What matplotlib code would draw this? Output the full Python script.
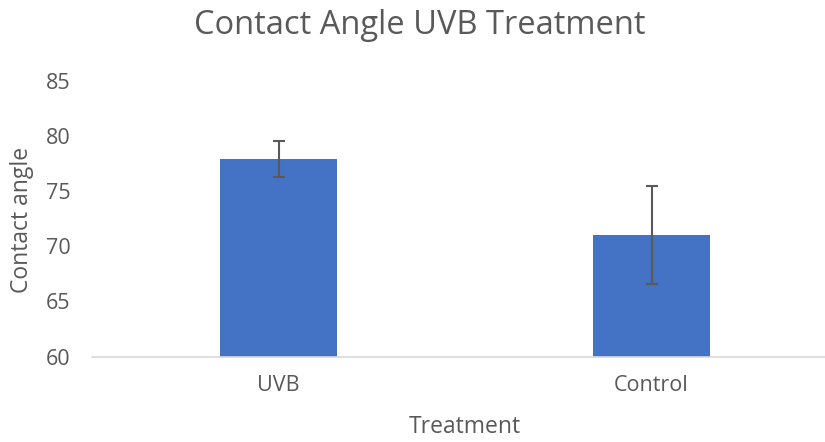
import matplotlib.pyplot as plt

# Datos
tratamientos = ['UVB', 'Control']
angulo = [77.9, 71.0]
error = [1.65, 4.45]

plt.rcParams['font.family'] = ['Open Sans', 'DejaVu Sans']

fig = plt.figure(figsize=(8.25, 4.42), dpi=100)
ax = fig.add_axes([92 / 825, 0.193, 746 / 825, 0.6244])

x = range(len(tratamientos))
ax.bar(x, angulo, width=0.313, color='#4472c4', zorder=2)
ax.errorbar(x, angulo, yerr=error, fmt='none', ecolor='#595959',
            elinewidth=1.5, capsize=4.3, capthick=1.5, zorder=3)

ax.set_xlim(-0.5, 1.5)
ax.set_ylim(60, 85)
ax.set_yticks(range(60, 86, 5))
ax.set_xticks(list(x))
ax.set_xticklabels(tratamientos)

for lado in ['top', 'right', 'left']:
    ax.spines[lado].set_visible(False)
ax.spines['bottom'].set_color('#d9d9d9')
ax.spines['bottom'].set_linewidth(1.2)
ax.tick_params(axis='both', length=0, labelsize=15.5, colors='#595959')
ax.tick_params(axis='x', pad=13)
ax.tick_params(axis='y', pad=15.5)

fig.text(420 / 825, 1 - 25 / 442, 'Contact Angle UVB Treatment', ha='center', va='center',
         fontsize=23.5, color='#595959')
fig.text(465 / 825, 1 - 427 / 442, 'Treatment', ha='center', va='center',
         fontsize=16.5, color='#595959')
fig.text(22 / 825, 1 - 220 / 442, 'Contact angle', ha='center', va='center',
         rotation=90, fontsize=16.5, color='#595959')

plt.savefig('out.png', dpi=100)
